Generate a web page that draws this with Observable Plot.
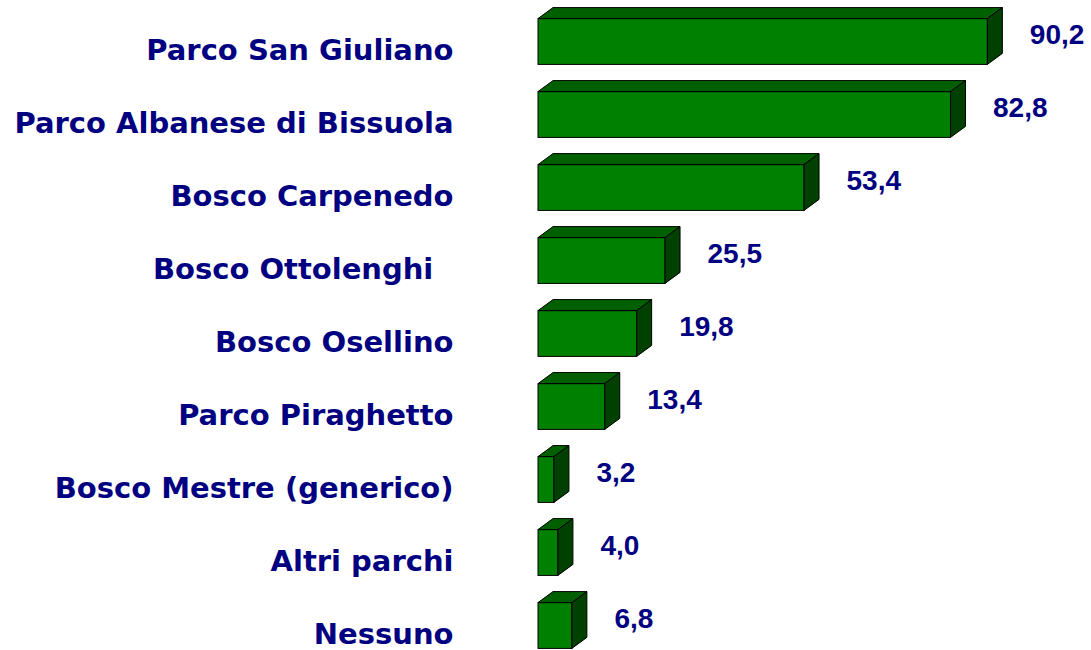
<!DOCTYPE html>
<html>
<head>
<meta charset="utf-8">
<script src="https://cdn.jsdelivr.net/npm/d3@7"></script>
<script src="https://cdn.jsdelivr.net/npm/@observablehq/plot@0.6"></script>
<style>
  html, body { margin: 0; padding: 0; background: #ffffff; }
  svg text { white-space: pre; }
</style>
</head>
<body>
<div id="chart"></div>
<script>
const categories = [
  "Parco San Giuliano",
  "Parco Albanese di Bissuola",
  "Bosco Carpenedo",
  "Bosco Ottolenghi  ",
  "Bosco Osellino",
  "Parco Piraghetto",
  "Bosco Mestre (generico)",
  "Altri parchi",
  "Nessuno"
];
const values = [90.2, 82.8, 53.4, 25.5, 19.8, 13.4, 3.2, 4.0, 6.8];

const data = categories.map((c, i) => ({category: c, value: values[i]}));
const fmt = v => v.toFixed(1).replace(".", ",");

const navy = "#000080";
const chart = Plot.plot({
  width: 1091,
  height: 650,
  marginLeft: 538,
  marginRight: 0,
  marginTop: 0,
  marginBottom: 0,
  style: {background: "#ffffff"},
  x: {domain: [0, 111], axis: null},
  y: {type: "band", domain: categories, range: [14.4, 672.8], padding: 0, axis: null},
  marks: [
    Plot.barX(data, {
      x: "value", y: "category",
      insetTop: 3.6, insetBottom: 23.6,
      fill: "#008000", stroke: "#000000", strokeWidth: 1
    }),
    Plot.text(data, {
      y: "category", text: "category", frameAnchor: "left",
      dx: -85, dy: -1, textAnchor: "end",
      fill: navy, fontFamily: "DejaVu Sans", fontWeight: "bold", fontSize: 29
    }),
    Plot.text(data, {
      x: "value", y: "category", text: d => fmt(d.value),
      dx: 42, dy: -17, textAnchor: "start",
      fill: navy, fontFamily: "Liberation Sans", fontWeight: "bold", fontSize: 28
    })
  ]
});

// add 3D top and side faces derived from the bars Plot drew
const depthX = 15, depthY = 11;
d3.select(chart).selectAll("g[aria-label='bar'] rect").each(function() {
  const r = d3.select(this);
  const x = +r.attr("x"), y = +r.attr("y"), w = +r.attr("width"), h = +r.attr("height");
  const g = d3.select(this.parentNode);
  g.append("polygon")
    .attr("points", [[x, y], [x + depthX, y - depthY], [x + w + depthX, y - depthY], [x + w, y]].join(" "))
    .attr("fill", "#006000").attr("stroke", "#000").attr("stroke-width", 1).attr("stroke-linejoin", "round");
  g.append("polygon")
    .attr("points", [[x + w, y], [x + w + depthX, y - depthY], [x + w + depthX, y + h - depthY], [x + w, y + h]].join(" "))
    .attr("fill", "#004000").attr("stroke", "#000").attr("stroke-width", 1).attr("stroke-linejoin", "round");
});

document.getElementById("chart").appendChild(chart);
</script>
</body>
</html>
